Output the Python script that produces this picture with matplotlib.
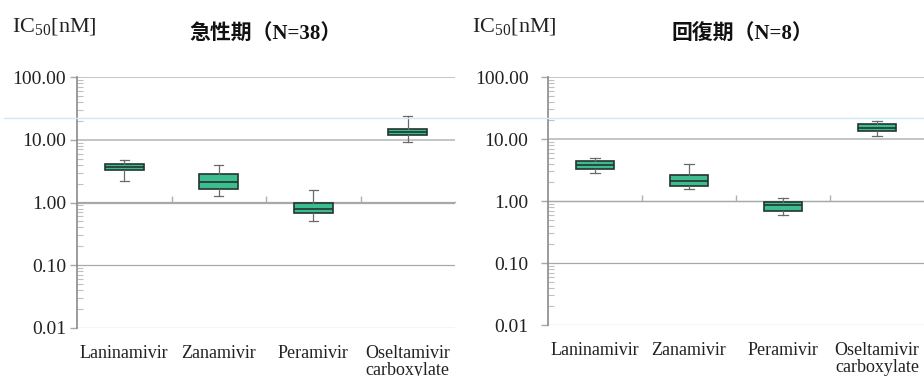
import matplotlib
matplotlib.use('Agg')
import matplotlib.pyplot as plt
from matplotlib.lines import Line2D
from matplotlib.ticker import LogLocator, FixedLocator, FormatStrFormatter, NullFormatter

plt.rcParams['font.family'] = ['Liberation Serif', 'Noto Sans CJK JP']
plt.rcParams['mathtext.fontset'] = 'custom'
plt.rcParams['mathtext.rm'] = 'Liberation Serif'

# データ（箱ひげ図の統計値, 単位 nM）
drugs = ['Laninamivir', 'Zanamivir', 'Peramivir', 'Oseltamivir\ncarboxylate']
titles = ['急性期（N=38）', '回復期（N=8）']

acute_whislo = [2.18, 1.26, 0.50, 9.1]
acute_q1 = [3.26, 1.64, 0.69, 12.1]
acute_med = [3.70, 2.15, 0.80, 13.5]
acute_q3 = [4.05, 2.88, 0.975, 15.1]
acute_whishi = [4.69, 3.95, 1.61, 24.0]

recov_whislo = [2.79, 1.54, 0.60, 11.2]
recov_q1 = [3.32, 1.72, 0.68, 13.3]
recov_med = [3.85, 2.12, 0.86, 15.2]
recov_q3 = [4.36, 2.65, 0.976, 17.2]
recov_whishi = [4.99, 3.95, 1.10, 19.7]

GREEN = '#3dbd8f'
EDGE = '#24352f'
GRID = '#a8a8a8'
AXIS = '#8a8a8a'


def make_stats(lo, q1, med, q3, hi):
    return [dict(whislo=a, q1=b, med=c, q3=d, whishi=e, fliers=[])
            for a, b, c, d, e in zip(lo, q1, med, q3, hi)]


def draw_panel(ax, stats, title, title_x, ypad):
    ax.set_yscale('log')
    ax.set_ylim(0.01, 100)
    ax.set_xlim(0.5, 4.5)

    # 横線（グリッド）
    for v in [0.01, 0.1, 1, 10, 100]:
        lw = 1.4 if v >= 10 else 0.9
        col = '#c4c4c4' if v >= 10 else GRID
        ax.axhline(v, color=col, lw=lw, zorder=0)

    ax.bxp(stats, positions=range(1, 5), widths=0.41, patch_artist=True,
           showfliers=False,
           boxprops=dict(facecolor=GREEN, edgecolor=EDGE, linewidth=1.2),
           medianprops=dict(color=EDGE, linewidth=1.2),
           whiskerprops=dict(color='#6a6a6a', linewidth=0.9),
           capprops=dict(color='#6a6a6a', linewidth=0.9),
           capwidths=0.1, zorder=3)

    for s in ['top', 'right', 'bottom']:
        ax.spines[s].set_visible(False)
    ax.spines['left'].set_color(AXIS)
    ax.spines['left'].set_linewidth(1.2)

    ax.yaxis.set_major_locator(FixedLocator([0.01, 0.1, 1, 10, 100]))
    ax.yaxis.set_major_formatter(FormatStrFormatter('%.2f'))
    ax.yaxis.set_minor_locator(LogLocator(base=10, subs=range(2, 10)))
    ax.yaxis.set_minor_formatter(NullFormatter())
    ax.tick_params(axis='y', which='major', length=5, color=GRID, width=1,
                   labelsize=14, pad=ypad, labelcolor='#222222')
    ax.tick_params(axis='y', which='minor', direction='in', length=4,
                   color='#c0c0c0', width=0.8)

    ax.set_xticks(range(1, 5))
    ax.set_xticklabels(drugs, fontsize=13, linespacing=1.05, color='#222222')
    ax.tick_params(axis='x', length=0, pad=12)

    # 横軸は 1.00 の位置（区切り目盛）
    sec = ax.secondary_xaxis(0.5)
    for s in sec.spines.values():
        s.set_color(GRID)
        s.set_linewidth(0.9)
    sec.set_xticks([1.5, 2.5, 3.5])
    sec.set_xticklabels([])
    sec.tick_params(axis='x', length=4, color='#b0b0b0', width=1)

    fig.text(title_x, 1 - 35 / 376, title, ha='center', va='center',
             fontsize=15, fontweight='bold', color='#111111')


fig = plt.figure(figsize=(9.24, 3.76), dpi=100)
ax1 = fig.add_axes([77 / 924, 1 - 328 / 376, 378 / 924, 251 / 376])
ax2 = fig.add_axes([548 / 924, 1 - 325 / 376, 376 / 924, 248 / 376])

draw_panel(ax1, make_stats(acute_whislo, acute_q1, acute_med, acute_q3, acute_whishi),
           titles[0], 265 / 924, 3)
draw_panel(ax2, make_stats(recov_whislo, recov_q1, recov_med, recov_q3, recov_whishi),
           titles[1], 742 / 924, 9)

for x0 in [12 / 924, 472 / 924]:
    fig.text(x0, 1 - 32 / 376, r'IC$_{\mathrm{50}}$[nM]', fontsize=16,
             ha='left', va='baseline', color='#222222')

# 画像上の薄い青線
fig.add_artist(Line2D([4 / 924, 1.0], [1 - 118 / 376, 1 - 118 / 376],
                      color='#cfe9f7', lw=1.0, transform=fig.transFigure))

fig.savefig('out.png', dpi=100)
